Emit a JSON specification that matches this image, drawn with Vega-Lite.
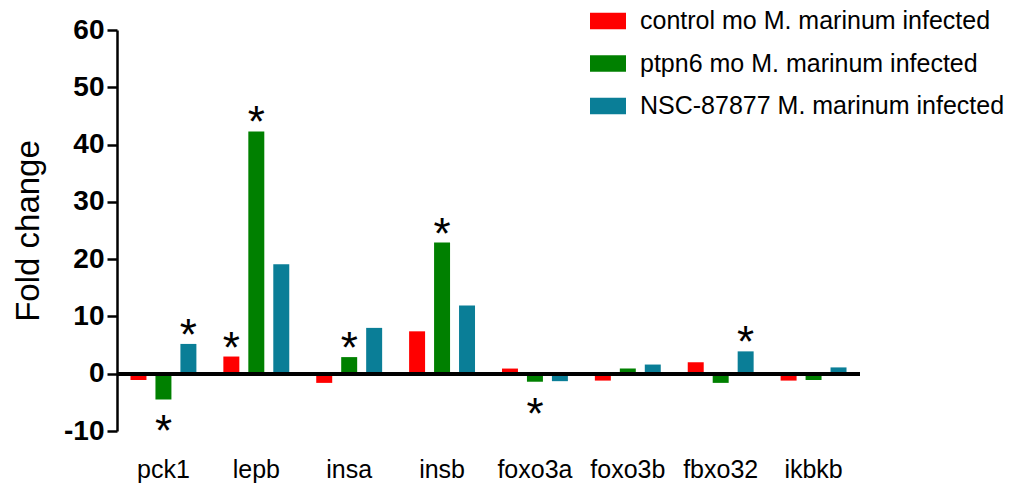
{
  "$schema": "https://vega.github.io/schema/vega-lite/v6.json",
  "autosize": {"type": "none"},
  "width": 743,
  "height": 401,
  "padding": {"left": 117, "top": 30, "right": 165, "bottom": 57},
  "background": "white",
  "config": {
    "font": "Liberation Sans",
    "view": {"stroke": null}
  },
  "data": {
    "values": [
      {"gene": "pck1", "group": "control mo M. marinum infected", "value": -1.1, "sig": false},
      {"gene": "pck1", "group": "ptpn6 mo M. marinum infected", "value": -4.5, "sig": true},
      {"gene": "pck1", "group": "NSC-87877 M. marinum infected", "value": 5.2, "sig": true},
      {"gene": "lepb", "group": "control mo M. marinum infected", "value": 3.0, "sig": true},
      {"gene": "lepb", "group": "ptpn6 mo M. marinum infected", "value": 42.3, "sig": true},
      {"gene": "lepb", "group": "NSC-87877 M. marinum infected", "value": 19.1, "sig": false},
      {"gene": "insa", "group": "control mo M. marinum infected", "value": -1.6, "sig": false},
      {"gene": "insa", "group": "ptpn6 mo M. marinum infected", "value": 2.9, "sig": true},
      {"gene": "insa", "group": "NSC-87877 M. marinum infected", "value": 8.0, "sig": false},
      {"gene": "insb", "group": "control mo M. marinum infected", "value": 7.4, "sig": false},
      {"gene": "insb", "group": "ptpn6 mo M. marinum infected", "value": 22.9, "sig": true},
      {"gene": "insb", "group": "NSC-87877 M. marinum infected", "value": 11.9, "sig": false},
      {"gene": "foxo3a", "group": "control mo M. marinum infected", "value": 0.9, "sig": false},
      {"gene": "foxo3a", "group": "ptpn6 mo M. marinum infected", "value": -1.4, "sig": true},
      {"gene": "foxo3a", "group": "NSC-87877 M. marinum infected", "value": -1.3, "sig": false},
      {"gene": "foxo3b", "group": "control mo M. marinum infected", "value": -1.2, "sig": false},
      {"gene": "foxo3b", "group": "ptpn6 mo M. marinum infected", "value": 0.9, "sig": false},
      {"gene": "foxo3b", "group": "NSC-87877 M. marinum infected", "value": 1.6, "sig": false},
      {"gene": "fbxo32", "group": "control mo M. marinum infected", "value": 2.0, "sig": false},
      {"gene": "fbxo32", "group": "ptpn6 mo M. marinum infected", "value": -1.6, "sig": false},
      {"gene": "fbxo32", "group": "NSC-87877 M. marinum infected", "value": 3.9, "sig": true},
      {"gene": "ikbkb", "group": "control mo M. marinum infected", "value": -1.2, "sig": false},
      {"gene": "ikbkb", "group": "ptpn6 mo M. marinum infected", "value": -1.1, "sig": false},
      {"gene": "ikbkb", "group": "NSC-87877 M. marinum infected", "value": 1.1, "sig": false}
    ]
  },
  "encoding": {
    "x": {
      "field": "gene",
      "type": "nominal",
      "sort": ["pck1", "lepb", "insa", "insb", "foxo3a", "foxo3b", "fbxo32", "ikbkb"],
      "scale": {"paddingInner": 0, "paddingOuter": 0},
      "axis": {
        "title": null,
        "domain": false,
        "ticks": false,
        "labelAngle": 0,
        "labelFontSize": 25,
        "labelColor": "black",
        "labelPadding": 26
      }
    },
    "xOffset": {
      "field": "group",
      "type": "nominal",
      "sort": ["control mo M. marinum infected", "ptpn6 mo M. marinum infected", "NSC-87877 M. marinum infected"],
      "scale": {"paddingInner": 0.36, "paddingOuter": 0.54}
    }
  },
  "layer": [
    {
      "mark": {"type": "bar"},
      "encoding": {
        "y": {
          "field": "value",
          "type": "quantitative",
          "scale": {"domain": [-10, 60], "nice": false, "zero": false},
          "axis": {
            "title": "Fold change",
            "titleFontSize": 33,
            "titleFontWeight": "normal",
            "titleColor": "black",
            "titlePadding": 18,
            "values": [-10, 0, 10, 20, 30, 40, 50, 60],
            "labelExpr": "'' + datum.value",
            "grid": false,
            "domainColor": "black",
            "domainWidth": 2.5,
            "tickColor": "black",
            "tickWidth": 2.5,
            "tickSize": 10,
            "labelFontSize": 28,
            "labelFontWeight": "bold",
            "labelColor": "black",
            "labelPadding": 3
          }
        },
        "y2": {"datum": 0},
        "color": {
          "field": "group",
          "type": "nominal",
          "sort": ["control mo M. marinum infected", "ptpn6 mo M. marinum infected", "NSC-87877 M. marinum infected"],
          "scale": {
            "domain": ["control mo M. marinum infected", "ptpn6 mo M. marinum infected", "NSC-87877 M. marinum infected"],
            "range": ["#FF0000", "#008000", "#0A7E97"]
          },
          "legend": {
            "title": null,
            "orient": "none",
            "legendX": 473,
            "legendY": -27,
            "symbolType": "M-1,-0.46H1V0.46H-1Z",
            "symbolSize": 1296,
            "symbolStrokeWidth": 0,
            "symbolOpacity": 1,
            "labelFontSize": 25,
            "labelColor": "black",
            "labelOffset": 14,
            "rowPadding": 11.5,
            "labelLimit": 500
          }
        }
      }
    },
    {
      "mark": {"type": "rule", "color": "black", "strokeWidth": 3},
      "encoding": {"y": {"datum": 0}, "x": null, "xOffset": null}
    },
    {
      "transform": [{"filter": "datum.sig && datum.value > 0"}],
      "mark": {"type": "text", "text": "*", "fontSize": 44, "baseline": "alphabetic", "dy": 6, "color": "black"},
      "encoding": {"y": {"field": "value", "type": "quantitative"}}
    },
    {
      "transform": [{"filter": "datum.sig && datum.value < 0"}],
      "mark": {"type": "text", "text": "*", "fontSize": 44, "baseline": "alphabetic", "dy": 47, "color": "black"},
      "encoding": {"y": {"field": "value", "type": "quantitative"}}
    }
  ]
}
